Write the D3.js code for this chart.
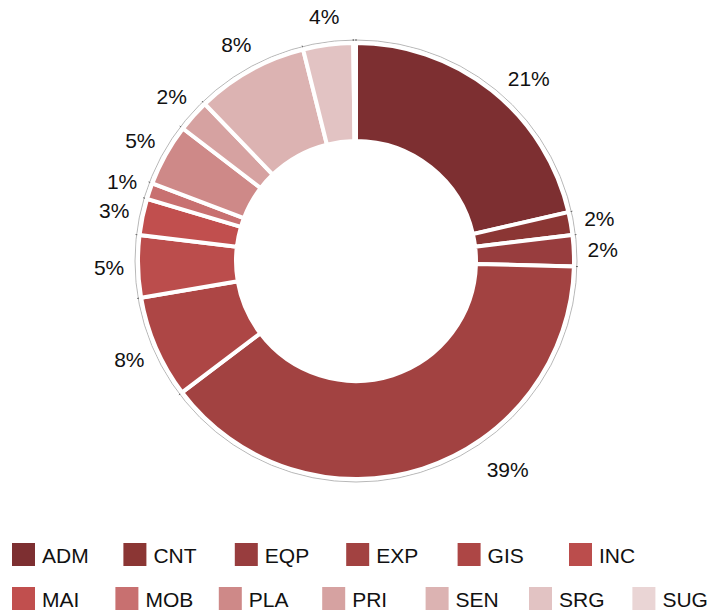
<!DOCTYPE html>
<html>
<head>
<meta charset="utf-8">
<script src="https://d3js.org/d3.v7.min.js"></script>
<style>
  html, body { margin:0; padding:0; background:#fff; }
  #canvas { width:711px; height:610px; }
  text { font-family: "Liberation Sans", Arial, Helvetica, sans-serif; fill:#111; }
</style>
</head>
<body>
<div id="canvas" class="canvas"></div>
<script>
//data (share of total, %)
var categories = ['ADM','CNT','EQP','EXP','GIS','INC','MAI','MOB','PLA','PRI','SEN','SRG','SUG'];
var shares     = [21.4, 1.7, 2.3, 39.3, 7.6, 4.6, 2.7, 1.2, 4.6, 2.4, 8.3, 3.7, 0.2];
var colors     = ['#7d2f31','#8b3634','#983d3e','#a24241','#ad4645','#bb4d4c','#c14f4e',
                  '#c87070','#ce8988','#d6a2a1','#dcb3b2','#e2c3c3','#ead5d5'];
var legendRows = [categories.slice(0,6), categories.slice(6)];

//layout
var W = 711, H = 610;
var cx = 356, cy = 261;
var rOuter = 218, rInner = 120, rGuide = 221, rLabel = 247;
//a couple of labels sit off their slice centre in the original
var labelNudge = { ADM:{a:43.5, r:251}, EXP:{a:144, r:258} };

var rows = categories.map(function(c,i){
    return {cat:c, value:shares[i], color:colors[i]};
});

var svg = d3.select('.canvas')
    .append('svg')
    .attr('width',W)
    .attr('height',H);

var plot = svg.append('g')
    .attr('transform','translate(' + cx + ',' + cy + ')');

var pie = d3.pie()
    .sort(null)
    .value(function(d){ return d.value; });

var arcs = pie(rows);

var arc = d3.arc()
    .innerRadius(rInner)
    .outerRadius(rOuter);

//thin guide ring outside the slices
plot.append('circle')
    .attr('r',rGuide)
    .style('fill','none')
    .style('stroke','#b8b8b8')
    .style('stroke-width',1);

plot.selectAll('.tick')
    .data(arcs)
    .enter()
    .append('line')
    .attr('class','tick')
    .attr('x1',function(d){ return Math.sin(d.startAngle)*(rGuide-3); })
    .attr('y1',function(d){ return -Math.cos(d.startAngle)*(rGuide-3); })
    .attr('x2',function(d){ return Math.sin(d.startAngle)*(rGuide+1); })
    .attr('y2',function(d){ return -Math.cos(d.startAngle)*(rGuide+1); })
    .style('stroke','#666')
    .style('stroke-width',1);

plot.selectAll('.slice')
    .data(arcs)
    .enter()
    .append('path')
    .attr('class','slice')
    .attr('d',arc)
    .style('fill',function(d){ return d.data.color; })
    .style('stroke','#fff')
    .style('stroke-width',4);

plot.selectAll('.label')
    .data(arcs.filter(function(d){ return d.data.value >= 0.5; }))
    .enter()
    .append('text')
    .attr('class','label')
    .attr('transform',function(d){
        var n = labelNudge[d.data.cat];
        var a = n ? n.a*Math.PI/180 : (d.startAngle + d.endAngle)/2;
        var r = n ? n.r : rLabel;
        return 'translate(' + (Math.sin(a)*r) + ',' + (-Math.cos(a)*r) + ')';
    })
    .attr('text-anchor','middle')
    .attr('dy','0.36em')
    .style('font-size','21px')
    .text(function(d){ return Math.round(d.data.value) + '%'; });

//legend, two rows
var legendSteps = [111.4, 103.4];
var legendY = [543, 587];

legendRows.forEach(function(row,ri){
    var item = svg.selectAll('.legend-' + ri)
        .data(row)
        .enter()
        .append('g')
        .attr('class','legend-' + ri)
        .attr('transform',function(d,i){
            return 'translate(' + (12 + i*legendSteps[ri]) + ',' + legendY[ri] + ')';
        });

    item.append('rect')
        .attr('width',23)
        .attr('height',23)
        .style('fill',function(d){ return colors[categories.indexOf(d)]; });

    item.append('text')
        .attr('x',30)
        .attr('y',20)
        .style('font-size','21px')
        .text(function(d){ return d; });
});
</script>
</body>
</html>
